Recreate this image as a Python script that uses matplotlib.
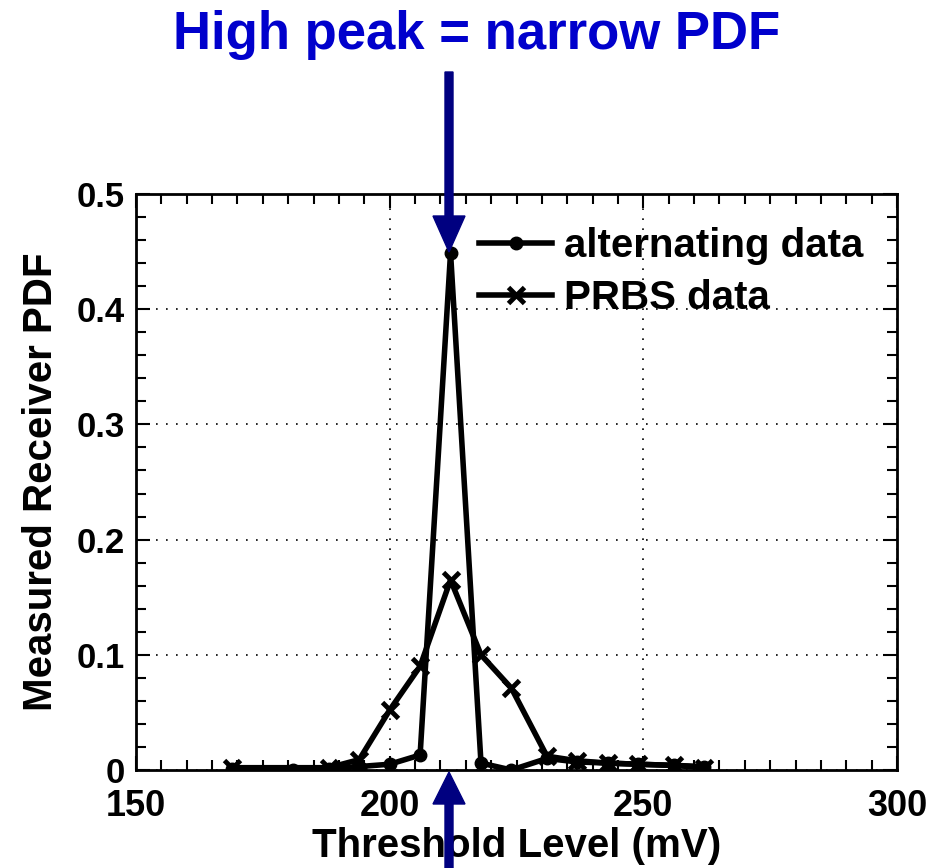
import matplotlib
matplotlib.use('Agg')
import matplotlib.pyplot as plt
from matplotlib.patches import FancyArrow
from matplotlib.transforms import IdentityTransform
from matplotlib.ticker import MultipleLocator

# threshold level (mV) and measured PDF values
alt_x = [169, 181, 188, 194, 200, 206, 212, 218, 224, 231, 237, 243, 249, 256, 262]
alt_y = [0.001, 0.0, 0.001, 0.003, 0.005, 0.013, 0.449, 0.006, 0.0, 0.010, 0.007, 0.006, 0.005, 0.004, 0.003]

prbs_x = [169, 188, 194, 200, 206, 212, 218, 224, 231, 237, 243, 249, 256, 262]
prbs_y = [0.002, 0.002, 0.009, 0.052, 0.090, 0.165, 0.100, 0.071, 0.012, 0.008, 0.006, 0.005, 0.004, 0.002]

labels = ['alternating data', 'PRBS data']
title = 'High peak = narrow PDF'

sans = ['Liberation Sans', 'DejaVu Sans']

W, H = 935, 868
fig = plt.figure(figsize=(W / 100, H / 100), dpi=100)
ax = fig.add_axes([136 / W, 1 - 770 / H, (897 - 136) / W, (770 - 194) / H])

ax.plot(alt_x, alt_y, color='black', lw=4, marker='o', ms=9, label=labels[0])
ax.plot(prbs_x, prbs_y, color='black', lw=4, marker='x', ms=12, mew=3.5, label=labels[1])

ax.set_xlim(150, 300)
ax.set_ylim(0, 0.5)
ax.xaxis.set_major_locator(MultipleLocator(50))
ax.xaxis.set_minor_locator(MultipleLocator(5))
ax.yaxis.set_major_locator(MultipleLocator(0.1))
ax.yaxis.set_minor_locator(MultipleLocator(0.02))
ax.grid(True, which='major', color='black', ls=(0, (1, 5)), lw=1.2)
ax.tick_params(which='both', direction='in', top=True, right=True, width=1.5)
ax.tick_params(which='major', length=10)
ax.tick_params(which='minor', length=7)
for s in ax.spines.values():
    s.set_linewidth(2)

ax.set_yticks([0, 0.1, 0.2, 0.3, 0.4, 0.5])
ax.set_yticklabels(['0', '0.1', '0.2', '0.3', '0.4', '0.5'], family=sans, weight='bold', fontsize=25)
ax.set_xticks([150, 200, 250, 300])
ax.set_xticklabels(['150', '200', '250', '300'], family=sans, weight='bold', fontsize=26)
ax.tick_params(axis='y', pad=8)
ax.tick_params(axis='x', pad=14)

ax.set_xlabel('Threshold Level (mV)', family=sans, weight='bold', fontsize=29, labelpad=2)
ax.set_ylabel('Measured Receiver PDF', family=sans, weight='bold', fontsize=29, labelpad=12)

ax.legend(loc='upper left', bbox_to_anchor=(0.43, 0.97), frameon=False,
          prop={'family': sans, 'weight': 'bold', 'size': 29},
          handlelength=1.8, handletextpad=0.3, labelspacing=0.35, borderaxespad=0)

fig.text(477 / W, 1 - 35 / H, title, ha='center', va='center', color='#0000cc',
         family=sans, weight='bold', fontsize=38)

# arrows in figure pixels (y measured from bottom)
arrow_col = '#000080'
fig.add_artist(FancyArrow(449, H - 72, 0, -180, width=8, head_width=32, head_length=36,
                          length_includes_head=True, color=arrow_col,
                          transform=IdentityTransform()))
fig.add_artist(FancyArrow(449, 0, 0, H - 772, width=8, head_width=32, head_length=32,
                          length_includes_head=True, color=arrow_col,
                          transform=IdentityTransform()))

fig.savefig('out.png', dpi=100)
